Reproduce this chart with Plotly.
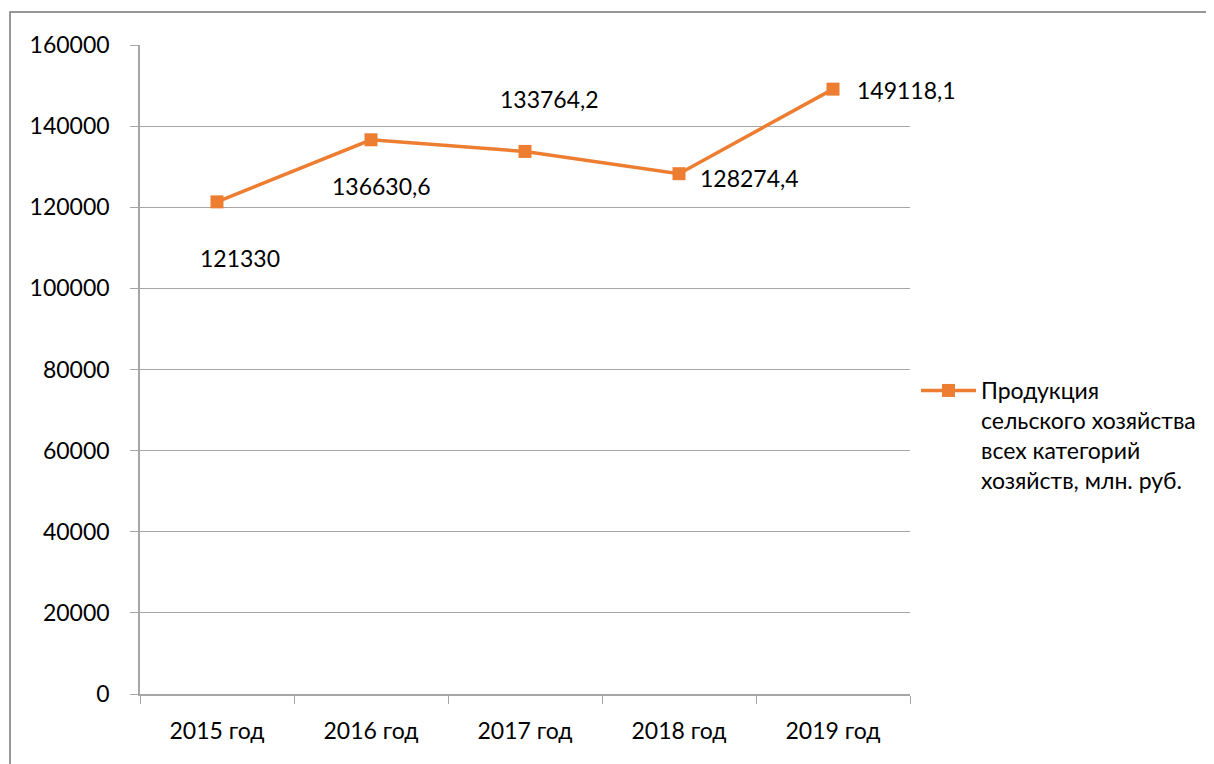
import plotly.graph_objects as go

categories = ["2015 год", "2016 год", "2017 год", "2018 год", "2019 год"]
values = [121330, 136630.6, 133764.2, 128274.4, 149118.1]
series_name = "Продукция<br>сельского хозяйства<br>всех категорий<br>хозяйств, млн. руб."
y_ticks = [0, 20000, 40000, 60000, 80000, 100000, 120000, 140000, 160000]

# label placement styles (pixel offsets relative to points)
label_xanchor = ["center", "center", "center", "left", "left"]
label_xshift = [23, 10, 24, 19, 22]
label_yshift = [-56, -46, 52, -4, -1]

def fmt(v):
    s = ("%g" % v) if v == int(v) else ("%.1f" % v)
    return s.replace(".", ",")

FONT = "Lato, Carlito, Calibri, sans-serif"
FS = 23
ORANGE = "#ED7D31"
GRID = "#a6a6a6"

W, H = 1214, 764
OFF = 8  # page body offset
PX0, PX1, PY0, PY1 = 140, 910, 45, 694  # plot area in page pixels
L, T = PX0 - OFF, PY0 - OFF
R, B = W - (PX1 - OFF), H - (PY1 - OFF)
pw, ph = PX1 - PX0, PY1 - PY0

def px(x):
    return (x - PX0) / pw

def py(y):
    return (PY1 - y) / ph

fig = go.Figure()
fig.add_trace(go.Scatter(
    x=categories, y=values, mode="lines+markers", name=series_name,
    line=dict(color=ORANGE, width=3.5),
    marker=dict(symbol="square", size=13, color=ORANGE),
))

for c, v, xa, xs, ys in zip(categories, values, label_xanchor, label_xshift, label_yshift):
    fig.add_annotation(x=c, y=v, xref="x", yref="y", text=fmt(v), showarrow=False,
                       xanchor=xa, yanchor="middle", xshift=xs, yshift=ys,
                       font=dict(family=FONT, size=FS, color="#000000"))

# chart border (extends beyond visible page on right/bottom)
fig.add_shape(type="rect", xref="paper", yref="paper",
              x0=px(10), x1=3, y0=-2, y1=py(12),
              line=dict(color="#767676", width=1.5), fillcolor="rgba(0,0,0,0)", layer="below")

fig.update_layout(
    width=W, height=H,
    margin=dict(l=L, r=R, t=T, b=B, autoexpand=False),
    paper_bgcolor="white", plot_bgcolor="white",
    font=dict(family=FONT, size=FS, color="#000000"),
    showlegend=True,
    legend=dict(x=px(916), y=py(369), xanchor="left", yanchor="top", valign="top",
                font=dict(family=FONT, size=FS, color="#000000"),
                bgcolor="rgba(0,0,0,0)", itemwidth=55, tracegroupgap=0),
    xaxis=dict(type="category", range=[-0.5, 4.5], showgrid=False,
               showline=True, linecolor=GRID, linewidth=1.5,
               ticks="outside", tickson="boundaries", ticklen=8, tickcolor=GRID,
               ticklabelstandoff=16, zeroline=False),
    yaxis=dict(range=[0, 160000], tickvals=y_ticks, tickformat="d",
               showgrid=True, gridcolor=GRID, gridwidth=1.2,
               showline=True, linecolor=GRID, linewidth=1.5,
               ticks="outside", ticklen=8, tickcolor=GRID,
               ticklabelstandoff=16, zeroline=False),
)

fig.write_html("out.html")
